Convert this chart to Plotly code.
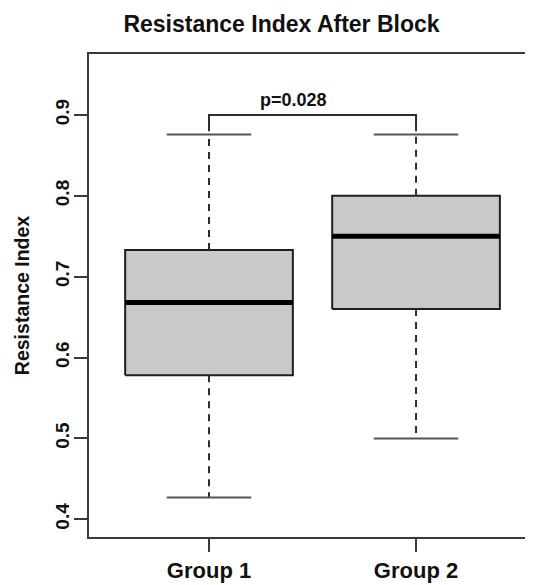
import plotly.graph_objects as go

# ---- data ----
groups = ["Group 1", "Group 2"]
positions = [1, 2]
lower_whisker = [0.427, 0.500]
q1 = [0.578, 0.660]
median = [0.668, 0.750]
q3 = [0.733, 0.800]
upper_whisker = [0.876, 0.876]
y_ticks = [0.4, 0.5, 0.6, 0.7, 0.8, 0.9]
y_tick_labels = ["0.4", "0.5", "0.6", "0.7", "0.8", "0.9"]
bracket_y = 0.9
bracket_leg_y = 0.880
p_label = "p=0.028"

# ---- style ----
BOX_HALF = 0.405
CAP_HALF = 0.204
FONT = "Liberation Sans, Arial, sans-serif"
FRAME = "#3a3a3a"
# the page body has an 8px margin, so the figure is shrunk/shifted by 8px
OFF = 8
W, H = 533 - OFF, 585 - OFF

fig = go.Figure()

for i, c in enumerate(positions):
    # box
    fig.add_trace(go.Scatter(
        x=[c - BOX_HALF, c + BOX_HALF, c + BOX_HALF, c - BOX_HALF, c - BOX_HALF],
        y=[q1[i], q1[i], q3[i], q3[i], q1[i]],
        mode="lines", fill="toself", fillcolor="#c9c9c9",
        line=dict(color="#1e1e1e", width=2), hoverinfo="skip", showlegend=False))
    # median
    fig.add_trace(go.Scatter(
        x=[c - BOX_HALF, c + BOX_HALF], y=[median[i], median[i]],
        mode="lines", line=dict(color="#000000", width=5),
        hoverinfo="skip", showlegend=False))
    # whiskers (dashed)
    for a, b in ((q3[i], upper_whisker[i]), (q1[i], lower_whisker[i])):
        fig.add_trace(go.Scatter(
            x=[c, c], y=[a, b], mode="lines",
            line=dict(color="#2e2e2e", width=2, dash="7px,6px"),
            hoverinfo="skip", showlegend=False))
    # caps
    for v in (upper_whisker[i], lower_whisker[i]):
        fig.add_trace(go.Scatter(
            x=[c - CAP_HALF, c + CAP_HALF], y=[v, v], mode="lines",
            line=dict(color="#555555", width=2),
            hoverinfo="skip", showlegend=False))

# significance bracket
fig.add_trace(go.Scatter(
    x=[positions[0], positions[0], positions[1], positions[1]],
    y=[bracket_leg_y, bracket_y, bracket_y, bracket_leg_y],
    mode="lines", line=dict(color="#2e2e2e", width=2),
    hoverinfo="skip", showlegend=False))

fig.add_annotation(
    x=1.406, y=0.9185, xref="x", yref="y", text="<b>" + p_label + "</b>",
    showarrow=False, font=dict(family=FONT, size=18, color="#111111"),
    xanchor="center", yanchor="middle")

fig.update_layout(
    width=W, height=H,
    margin=dict(l=89 - OFF, r=0, t=54 - OFF, b=585 - 537, autoexpand=False),
    paper_bgcolor="white", plot_bgcolor="white",
    title=dict(text="<b>Resistance Index After Block</b>",
               x=(281.5 - OFF) / W, xref="container", xanchor="center",
               y=1 - (24 - OFF) / H, yref="container", yanchor="middle",
               font=dict(family=FONT, size=23, color="#111111")),
    showlegend=False,
)

fig.update_xaxes(
    range=[0.4203, 2.565], tickvals=positions, ticktext=["<b>%s</b>" % g for g in groups],
    automargin=False,
    showgrid=False, zeroline=False, showline=True, mirror=True,
    linecolor=FRAME, linewidth=2, ticks="outside", ticklen=13, tickwidth=2,
    tickcolor=FRAME, tickfont=dict(family=FONT, size=22, color="#111111"))

fig.update_yaxes(
    range=[0.3781, 0.9754], tickvals=y_ticks,
    ticktext=["<b>%s</b>" % t for t in y_tick_labels],
    automargin=False, ticklabelstandoff=-3,
    tickangle=-90, showgrid=False, zeroline=False, showline=True, mirror=False,
    linecolor=FRAME, linewidth=2, ticks="outside", ticklen=13, tickwidth=2,
    tickcolor=FRAME, tickfont=dict(family=FONT, size=19, color="#111111"),
    title=dict(text="<b>Resistance Index</b>", standoff=18,
               font=dict(family=FONT, size=19.5, color="#111111")))

fig.write_html("out.html")
